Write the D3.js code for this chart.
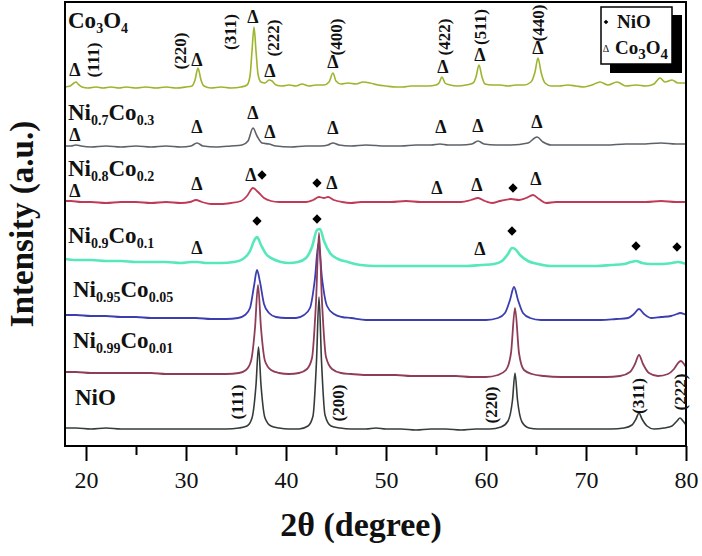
<!DOCTYPE html>
<html>
<head>
<meta charset="utf-8">
<script src="https://cdn.jsdelivr.net/npm/d3@7"></script>
<style>
  body { margin: 0; background: #fff; }
  svg { display: block; }
  text { font-family: "Liberation Serif", "Times New Roman", serif; fill: #111; }
</style>
</head>
<body>
<div id="chart"></div>
<script>
// sample names, {..} = subscript
var samples = ["Co{3}O{4}", "Ni{0.7}Co{0.3}", "Ni{0.8}Co{0.2}", "Ni{0.9}Co{0.1}",
               "Ni{0.95}Co{0.05}", "Ni{0.99}Co{0.01}", "NiO"];
var colors = ["#9db52e", "#5d6268", "#c03a56", "#56e8ba", "#3b3db0", "#8e3d58", "#353b3b"];
var lineWidths = [1.6, 1.6, 1.8, 2.6, 1.8, 1.8, 1.6];
// vertical offset of each pattern (a.u.)
var offsets = [360, 300, 244, 183, 128, 72, 17];

// patterns: [2theta, counts above offset]
var co3o4 = [[17.9,-1],[18.4,0],[18.8,3],[19.0,4],[19.2,2],[19.6,-1],[20.2,-2],[21,-1],[21.7,-2],[22.5,-1],[23.3,-2],[24,-1],[25,-2],[26,-1],[27,-2],[28,-1],[29,-2],[30,-1],[30.6,0],[30.9,6],[31.2,18],[31.5,6],[31.8,0],[32.5,-2],[33.5,-1],[34.5,-2],[35.5,-1],[36.1,1],[36.4,10],[36.6,35],[36.8,59],[37.0,35],[37.2,12],[37.5,4],[37.9,3],[38.3,6],[38.6,5],[39.0,1],[39.6,0],[40.3,1],[41,0],[41.6,2],[42.3,0],[43,1],[43.8,1],[44.3,4],[44.7,13],[45.0,5],[45.5,2],[46.2,3],[47,2],[47.7,4],[48.4,3],[49.2,1],[50,0],[51,-1],[51.7,-1],[52.5,0],[53.3,0],[54.2,0],[55.0,1],[55.3,3],[55.6,9],[55.9,3],[56.4,1],[57.2,0],[58.0,1],[58.7,3],[59.0,9],[59.3,21],[59.6,9],[59.9,2],[60.6,1],[61.4,1],[62.2,0],[63,1],[63.8,1],[64.5,4],[64.9,14],[65.2,28],[65.5,14],[65.9,3],[66.5,0],[67.3,0],[68.2,1],[69,0],[69.8,-1],[70.6,1],[71.4,4],[72.2,1],[73.1,4],[74,0],[75,1],[76,0],[76.8,2],[77.4,8],[77.9,4],[78.6,6],[79.2,3],[80,3]];
var ni07 = [[17.9,0],[18.5,0],[19.0,1],[19.5,0],[20.5,-1],[22,0],[23.5,-1],[25,0],[26.5,-1],[28,0],[29.5,-1],[30.5,0],[31.1,3],[31.7,0],[33,-1],[34.5,0],[35.6,1],[36.2,5],[36.7,18],[37.1,10],[37.6,3],[38.3,2],[39,0],[40.5,-1],[42,0],[43.5,0],[44.2,1],[44.7,3],[45.3,1],[46.5,0],[48,1],[50,0],[51.5,0],[53,1],[54.5,1],[55.4,2],[56.2,1],[57.5,1],[58.6,2],[59.2,5],[59.8,2],[61,1],[62.5,1],[64.2,3],[65.1,9],[65.7,4],[66.5,1],[68,1],[70,1],[72,1],[74,2],[75.5,2],[77.5,3],[79,2],[80,2]];
var ni08 = [[17.9,1],[18.5,1],[19.5,0],[20.5,0],[22,-1],[23.5,0],[25,0],[26.5,-1],[28,0],[29.5,-1],[30.4,0],[31.0,2],[31.6,0],[32.5,-2],[33.5,-2],[34.5,-1],[35.5,1],[36.1,6],[36.7,14],[37.2,10],[37.8,4],[38.5,1],[39.3,0],[40.2,0],[41,0],[42,0],[42.7,2],[43.3,5],[43.8,4],[44.2,5],[44.8,2],[45.6,0],[46.5,-1],[47.5,0],[49,0],[50.5,0],[52,1],[53.5,0],[55,0],[56.5,0],[57.5,0],[58.5,2],[59.2,4],[59.9,1],[60.6,-1],[61.4,1],[62.5,3],[63.3,2],[64.0,4],[64.7,7],[65.3,3],[66,-1],[67,0],[68.5,0],[70,0],[71.5,0],[73,0],[74.5,0],[76,0],[77.5,1],[79,0],[80,0]];
var ni09 = [[17.9,4],[19,3],[20.5,3],[22,2],[23.5,2],[25,1],[26.5,1],[28,1],[29.5,0],[30.5,1],[31.2,1],[32,0],[33.5,0],[34.8,1],[35.7,4],[36.4,12],[36.9,24],[37.1,26],[37.5,18],[38.0,9],[38.7,4],[39.5,1],[40.3,0],[41.2,1],[42.0,5],[42.6,16],[43.1,33],[43.4,34],[43.8,22],[44.4,10],[45.2,4],[46.2,1],[47.5,-2],[49,-3],[50.5,-3],[52,-3],[53.5,-3],[55,-3],[56.5,-3],[58,-3],[59.5,-2],[60.8,-1],[61.6,2],[62.2,9],[62.6,15],[62.9,14],[63.4,8],[64.2,2],[65.2,-1],[66.5,-3],[68,-3],[69.5,-3],[71,-3],[72.5,-2],[73.8,-1],[74.5,1],[75.0,2],[75.6,0],[76.5,-1],[77.5,-1],[78.6,0],[79.2,1],[79.7,0],[80,-1]];
var ni095 = [[17.9,3],[19,3],[20.5,2],[22,2],[23.5,1],[25,1],[26.5,0],[28,0],[29.5,0],[31,0],[32.5,-1],[34,-1],[35.2,0],[35.9,3],[36.4,10],[36.8,32],[37.1,48],[37.4,36],[37.8,14],[38.3,5],[39,1],[40,0],[41,0],[41.8,3],[42.4,10],[42.9,40],[43.25,75],[43.6,40],[44.1,12],[44.8,4],[45.6,1],[46.5,0],[48,-2],[49.5,-2],[51,-2],[52.5,-2],[54,-2],[55.5,-2],[57,-2],[58.5,-2],[60,-2],[61.2,0],[61.9,5],[62.4,18],[62.8,31],[63.2,18],[63.7,5],[64.4,0],[65.5,-2],[67,-2],[68.5,-2],[70,-2],[71.5,-2],[73,-1],[74.2,0],[74.8,4],[75.3,9],[75.8,4],[76.5,0],[77.5,1],[78.5,2],[79.1,4],[79.4,5],[79.8,4],[80,3]];
var ni099 = [[17.9,2],[19,2],[20.5,1],[22,1],[23.5,1],[25,1],[26.5,1],[28,0],[29.5,0],[31,0],[32.5,0],[34,0],[35.3,1],[36.0,4],[36.5,13],[36.9,46],[37.2,89],[37.5,46],[37.9,13],[38.5,4],[39.3,1],[40.3,0],[41.3,1],[42.1,5],[42.6,16],[43.0,72],[43.3,141],[43.6,72],[44.0,17],[44.6,5],[45.5,1],[46.5,0],[48,-1],[49.5,-1],[51,-1],[52.5,-2],[54,-2],[55.5,-2],[57,-2],[58.5,-3],[60,-3],[61.2,-1],[62.0,4],[62.5,21],[62.9,66],[63.3,21],[63.8,4],[64.6,0],[65.8,-2],[67.5,-3],[69,-3],[70.5,-3],[72,-3],[73.4,-2],[74.4,2],[74.9,10],[75.3,19],[75.7,10],[76.3,1],[77.2,-2],[78.2,0],[78.8,5],[79.3,12],[79.5,13],[79.8,10],[80,7]];
var nio = [[17.9,1],[19,1],[20.5,0],[22,1],[23.5,0],[25,0],[26.5,0],[28,0],[29.5,0],[31,0],[32.5,0],[34,0],[35.3,1],[36.1,3],[36.6,11],[37.0,44],[37.25,82],[37.5,44],[37.9,11],[38.5,3],[39.3,1],[40.3,0],[41.3,0],[42.2,3],[42.7,13],[43.05,68],[43.3,132],[43.55,68],[43.9,14],[44.5,3],[45.4,1],[46.5,0],[48,0],[49,1],[50,0],[51.5,0],[53,-1],[54.5,0],[56,0],[57.5,-1],[59,0],[60.4,0],[61.5,2],[62.2,8],[62.65,29],[62.9,56],[63.15,29],[63.6,7],[64.3,1],[65.2,0],[66.5,0],[68,0],[69.5,0],[71,0],[72.5,0],[73.8,1],[74.6,4],[75.0,10],[75.3,16],[75.6,10],[76.1,3],[76.8,0],[77.8,1],[78.6,3],[79.1,8],[79.4,11],[79.7,8],[80,4]];
var patterns = [co3o4, ni07, ni08, ni09, ni095, ni099, nio];

// phase markers [2theta, a.u.]
var co3o4Marks = [[18.9,376],[31.1,386],[36.7,429],[38.4,375],[44.7,384],[55.7,379],[59.4,391],[65.2,398],
                  [18.9,311],[31.1,319],[36.7,333],[38.4,314],[44.7,318],[55.5,319],[59.2,320],[65.1,324],
                  [18.9,255],[31.1,262],[36.5,271],[44.6,263],[55.1,258],[59.1,261],[65.0,267],
                  [31.1,198],[59.4,197]];
var nioMarks = [[37.6,271],[43.1,263],[62.7,258],
                [37.1,225],[43.1,227],[62.6,215],[75.0,200],[79.1,199]];

// Miller indices [label, 2theta, a.u.]
var co3o4Hkl = [["(111)",20.7,386],["(220)",29.4,395],["(311)",34.4,414],["(222)",38.7,408],
                ["(400)",45.0,409],["(422)",55.8,409],["(511)",59.4,419],["(440)",65.2,423]];
var nioHkl = [["(111)",35.1,44],["(200)",45.2,43],["(220)",60.5,41],["(311)",75.2,50],["(222)",79.4,54]];

// sample label anchors [2theta, a.u.]
var labelAt = [[18.2,418],[18.2,326],[18.2,270],[18.2,203],[18.7,149],[18.7,98],[18.9,41]];

var majorTicks = [20, 30, 40, 50, 60, 70, 80];
var minorTicks = [25, 35, 45, 55, 65, 75];

var W = 702, H = 556;
var plotL = 65, plotR = 686, plotT = 2, plotB = 446;

var svg = d3.select("#chart").append("svg").attr("width", W).attr("height", H);

var x = d3.scaleLinear().domain([17.9, 80]).range([plotL, plotR]);
var y = d3.scaleLinear().domain([0, 444]).range([plotB, plotT]);

svg.append("clipPath").attr("id", "plot")
    .append("rect").attr("x", plotL).attr("y", plotT).attr("width", plotR - plotL).attr("height", plotB - plotT);

// subscripted text helper
function richText(sel, str, big, small, shift) {
    var parts = str.match(/\{[^}]*\}|[^{}]+/g);
    var down = false;
    parts.forEach(function(p) {
        var sub = p[0] === "{";
        var t = sel.append("tspan").text(sub ? p.slice(1, -1) : p).attr("font-size", sub ? small : big);
        if (sub && !down) { t.attr("dy", shift); down = true; }
        else if (!sub && down) { t.attr("dy", -shift); down = false; }
    });
}

// patterns
var g = svg.append("g").attr("clip-path", "url(#plot)");
patterns.forEach(function(p, i) {
    var line = d3.line()
        .x(function(d) { return x(d[0]); })
        .y(function(d) { return y(d[1] + offsets[i]); })
        .curve(d3.curveMonotoneX);
    g.append("path").datum(p)
        .attr("d", line)
        .attr("fill", "none")
        .attr("stroke", colors[i])
        .attr("stroke-width", lineWidths[i])
        .attr("stroke-linejoin", "round");
});

// frame
svg.append("rect").attr("x", plotL).attr("y", plotT)
    .attr("width", plotR - plotL).attr("height", plotB - plotT)
    .attr("fill", "none").attr("stroke", "#000").attr("stroke-width", 2);

// x axis
var ax = svg.append("g").attr("transform", "translate(0," + plotB + ")")
    .call(d3.axisBottom(x).tickValues(majorTicks).tickSize(15).tickPadding(10).tickFormat(d3.format("d")));
ax.select(".domain").remove();
ax.selectAll("line").attr("stroke", "#000").attr("stroke-width", 2);
ax.selectAll("text").attr("font-size", 24).attr("font-family", "Liberation Serif").attr("fill", "#111");

var axm = svg.append("g").attr("transform", "translate(0," + plotB + ")")
    .call(d3.axisBottom(x).tickValues(minorTicks).tickSize(9).tickFormat(""));
axm.select(".domain").remove();
axm.selectAll("line").attr("stroke", "#000").attr("stroke-width", 2);

// axis titles
svg.append("text")
    .attr("x", 361).attr("y", 536)
    .attr("text-anchor", "middle")
    .attr("font-size", 34).attr("font-weight", "bold")
    .text("2θ (degree)");

svg.append("text")
    .attr("transform", "translate(33," + ((plotT + plotB) / 2) + ") rotate(-90)")
    .attr("text-anchor", "middle")
    .attr("font-size", 33).attr("font-weight", "bold")
    .text("Intensity (a.u.)");

// sample labels
samples.forEach(function(s, i) {
    var t = svg.append("text")
        .attr("x", x(labelAt[i][0])).attr("y", y(labelAt[i][1]))
        .attr("font-weight", "bold");
    richText(t, s, 23, 14, 5);
});

// phase markers
svg.selectAll(".tri").data(co3o4Marks).enter().append("text")
    .attr("class", "tri")
    .attr("x", function(d) { return x(d[0]); })
    .attr("y", function(d) { return y(d[1]); })
    .attr("text-anchor", "middle")
    .attr("dominant-baseline", "central")
    .attr("font-size", 18).attr("font-weight", "bold")
    .attr("fill", "#222")
    .text("Δ");

svg.selectAll(".dia").data(nioMarks).enter().append("path")
    .attr("class", "dia")
    .attr("transform", function(d) { return "translate(" + x(d[0]) + "," + y(d[1]) + ")"; })
    .attr("d", d3.symbol().type(d3.symbolDiamond2).size(55))
    .attr("fill", "#000");

// Miller indices, vertical
svg.selectAll(".hkl").data(co3o4Hkl.concat(nioHkl)).enter().append("text")
    .attr("class", "hkl")
    .attr("transform", function(d) { return "translate(" + x(d[1]) + "," + y(d[2]) + ") rotate(-90)"; })
    .attr("text-anchor", "middle")
    .attr("dominant-baseline", "central")
    .attr("font-size", 17).attr("font-weight", "bold")
    .text(function(d) { return d[0]; });

// legend with drop shadow
svg.append("rect").attr("x", 610).attr("y", 15).attr("width", 72).attr("height", 58).attr("fill", "#000");
svg.append("rect").attr("x", 601).attr("y", 7).attr("width", 71).attr("height", 57)
    .attr("fill", "#fff").attr("stroke", "#000").attr("stroke-width", 1.5);
svg.append("path")
    .attr("transform", "translate(606,22)")
    .attr("d", d3.symbol().type(d3.symbolDiamond2).size(14))
    .attr("fill", "#000");
svg.append("text").attr("x", 606).attr("y", 48)
    .attr("text-anchor", "middle").attr("dominant-baseline", "central")
    .attr("font-size", 10).text("Δ");
svg.append("text").attr("x", 617).attr("y", 28)
    .attr("font-size", 19).attr("font-weight", "bold").text("NiO");
var lt = svg.append("text").attr("x", 615).attr("y", 54).attr("font-weight", "bold");
richText(lt, "Co{3}O{4}", 19, 15, 5);
</script>
</body>
</html>
